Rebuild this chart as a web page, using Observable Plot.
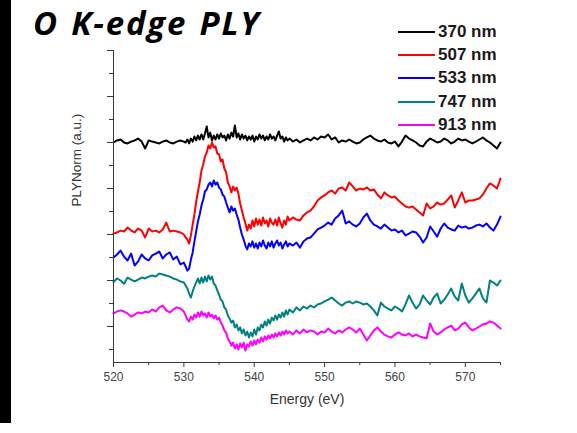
<!DOCTYPE html>
<html><head><meta charset="utf-8">
<script src="https://cdn.jsdelivr.net/npm/d3@7"></script>
<script src="https://cdn.jsdelivr.net/npm/@observablehq/plot@0.6"></script>
<style>
html,body{margin:0;padding:0;background:#fff;}
#wrap{position:relative;width:577px;height:433px;overflow:hidden;background:#fff;}
#strip{position:absolute;left:0;top:0;width:11px;height:423px;background:#000;}
#title{position:absolute;left:33px;top:1px;font-family:"Open Sans";font-style:italic;font-weight:bold;font-size:33px;letter-spacing:1.8px;word-spacing:2px;color:#000;white-space:nowrap;line-height:44px;}
#legend{position:absolute;left:398px;top:20px;font-family:"Liberation Sans",Arial,sans-serif;font-weight:bold;font-size:17px;color:#1a1a1a;}
.row{display:flex;align-items:center;height:23.4px;}
.sw{width:37px;height:2px;margin-right:3px;}
#chart{position:absolute;left:0;top:0;}
</style></head>
<body><div id="wrap"><div id="strip"></div><div id="chart"></div><div id="title">O K-edge PLY</div><div id="legend"></div></div>
<script>
const energy = [
520,520.5,521,521.5,522,522.5,523,523.5,524,524.5,525,525.5,526,526.5,527,527.5,528,528.5,529,529.5,530,
530.25,530.5,530.75,531,531.25,531.5,531.75,532,532.25,532.5,
532.75,533,533.25,533.5,533.75,534,534.25,534.5,534.75,535,
535.25,535.5,535.75,536,536.25,536.5,536.75,537,537.25,537.5,
537.75,538,538.25,538.5,538.75,539,539.25,539.5,539.75,540,
540.25,540.5,540.75,541,541.25,541.5,541.75,542,542.25,542.5,
542.75,543,543.25,543.5,543.75,544,544.25,544.5,544.75,545,
545.5,546,546.5,547,547.5,548,548.5,549,549.5,550,
550.5,551,551.5,552,552.5,553,553.5,554,554.5,555,
555.5,556,556.5,557,557.5,558,558.5,559,559.5,560,
560.5,561,561.5,562,562.5,563,563.5,564,564.5,565,
565.5,566,566.5,567,567.5,568,568.5,569,569.5,570,
570.5,571,571.5,572,572.5,573,573.5,574,574.5,575];

const seriesNames = ["370 nm","507 nm","533 nm","747 nm","913 nm"];
const seriesColors = ["#000000","#ff0000","#0000ff","#008080","#ff00ff"];

const nm370 = [
9.00,9.09,9.13,9.00,8.96,9.04,9.09,9.17,9.04,8.74,9.09,9.04,9.00,8.96,9.04,9.09,9.00,8.96,9.04,9.09,9.04,
9.00,9.13,8.96,9.17,9.04,9.26,9.09,9.30,9.13,9.35,
9.13,9.39,9.70,9.22,9.43,9.09,9.30,9.13,9.35,9.17,
9.39,9.22,9.30,9.09,9.35,9.17,9.43,9.26,9.74,9.22,
9.39,9.13,9.35,9.17,9.30,9.09,9.26,9.13,9.30,9.04,
9.26,9.13,9.35,9.17,9.30,9.09,9.26,9.13,9.35,9.17,
9.26,9.09,9.30,9.48,9.17,9.26,9.04,9.22,9.09,9.17,
9.04,9.13,9.00,9.09,9.17,9.09,9.22,9.13,9.26,9.22,
9.35,9.13,9.22,9.00,9.09,9.04,9.13,9.04,8.96,9.00,
9.13,9.22,9.30,9.17,9.09,9.04,9.13,9.00,8.96,9.04,
8.83,9.04,9.30,9.17,9.09,9.00,8.87,8.83,9.04,9.17,
9.09,9.00,9.04,9.17,9.09,8.96,9.04,9.17,9.09,9.13,
9.04,8.96,9.04,9.13,9.22,9.09,9.00,8.87,8.74,9.00];

const nm507 = [
5.04,5.09,5.17,5.13,5.30,5.17,5.09,5.26,5.17,4.87,5.26,5.13,5.17,5.09,5.22,5.52,5.13,5.17,5.13,5.09,5.00,
4.87,4.78,4.61,4.96,5.43,5.87,6.43,6.87,7.26,7.78,
8.04,8.39,8.57,8.87,8.74,9.00,8.78,8.83,8.52,8.48,
8.17,8.26,7.87,7.70,7.26,7.09,6.83,7.09,6.91,7.04,
6.78,6.35,6.04,5.74,5.48,5.17,5.43,5.26,5.61,5.35,
5.70,5.43,5.65,5.39,5.74,5.48,5.61,5.35,5.70,5.52,
5.43,5.65,5.39,5.74,5.48,5.30,5.61,5.43,5.78,5.61,
5.74,5.65,5.61,5.83,5.96,6.04,6.22,6.48,6.61,6.70,
6.83,6.91,6.78,7.00,7.04,6.91,7.26,7.09,6.91,7.00,
6.96,7.04,6.91,6.96,6.74,6.57,6.83,6.70,6.61,6.65,
6.48,6.35,6.22,6.17,6.22,6.09,5.96,5.83,6.35,6.13,
6.22,6.39,6.30,6.35,6.52,6.70,6.17,6.48,6.83,6.39,
6.48,6.48,6.52,6.57,6.74,7.00,7.22,7.13,7.00,7.43];

const nm533 = [
4.00,4.13,4.30,4.04,3.87,4.17,3.65,3.83,4.13,3.96,3.87,4.09,4.17,4.26,3.96,4.13,4.22,3.91,4.04,3.70,3.78,
3.61,3.43,3.52,3.91,4.22,4.70,5.13,5.57,5.87,6.26,
6.52,6.87,6.96,7.17,7.26,7.09,7.35,7.17,7.26,7.04,
6.96,6.74,6.65,6.39,6.17,5.96,6.22,6.04,6.13,5.87,
5.65,5.30,5.00,4.78,4.52,4.35,4.61,4.48,4.70,4.43,
4.61,4.39,4.65,4.48,4.74,4.52,4.39,4.65,4.48,4.70,
4.43,4.61,4.74,4.52,4.65,4.39,4.57,4.70,4.48,4.61,
4.52,4.65,4.43,4.70,4.83,4.87,5.04,5.22,5.30,5.39,
5.52,5.43,5.70,5.83,6.04,5.48,5.57,5.43,5.35,5.48,
5.74,5.91,5.61,5.43,5.35,5.26,5.43,5.30,5.17,5.22,
5.09,5.17,4.96,5.04,5.13,5.09,4.91,4.65,4.87,5.35,
5.13,4.91,5.26,5.48,5.30,5.22,5.17,5.39,5.30,5.35,
5.26,5.30,5.39,5.43,5.35,5.48,5.30,5.17,5.43,5.78];

const nm747 = [
2.93,3.09,3.00,2.86,3.13,3.04,2.96,3.04,3.13,3.09,3.17,3.22,3.17,3.30,3.26,3.22,3.17,3.09,3.04,2.96,2.91,
2.78,2.65,2.43,2.26,2.52,2.74,2.91,3.09,2.87,3.13,
2.91,3.17,2.96,3.22,3.04,3.17,2.87,2.78,2.57,2.39,
2.17,2.09,1.83,1.74,1.48,1.35,1.17,1.26,0.96,1.09,
0.83,0.96,0.70,0.87,0.61,0.78,0.52,0.74,0.57,0.87,
0.65,0.96,0.83,1.09,0.96,1.22,1.04,1.30,1.13,1.39,
1.26,1.48,1.30,1.52,1.39,1.61,1.43,1.70,1.52,1.74,
1.61,1.83,1.70,1.87,1.78,1.91,1.83,1.96,2.00,2.09,
2.17,2.26,2.13,2.00,1.91,2.04,2.09,2.00,2.09,2.04,
1.96,2.00,1.87,1.70,1.48,2.04,1.87,1.78,1.70,1.87,
1.78,1.65,1.96,2.35,2.04,1.78,1.96,2.35,2.13,1.96,
2.26,2.43,2.00,2.17,2.39,2.65,2.30,2.13,2.87,2.35,
2.04,2.22,2.43,2.65,2.22,2.04,3.00,2.91,2.78,3.00];

const nm913 = [
1.57,1.65,1.70,1.65,1.57,1.43,1.52,1.61,1.57,1.65,1.61,1.74,1.65,1.83,1.91,1.70,1.61,1.74,1.83,1.78,1.65,
1.48,1.30,1.22,1.43,1.30,1.52,1.39,1.61,1.43,1.65,
1.48,1.57,1.39,1.61,1.43,1.52,1.35,1.48,1.30,1.39,
1.17,1.04,0.83,0.74,0.48,0.35,0.17,0.30,0.04,0.22,
0.00,0.26,0.09,0.30,-0.04,0.22,0.13,0.35,0.17,0.39,
0.22,0.43,0.30,0.52,0.35,0.57,0.43,0.61,0.48,0.65,
0.52,0.70,0.57,0.74,0.61,0.78,0.65,0.83,0.70,0.78,
0.65,0.83,0.70,0.87,0.74,0.83,0.78,0.65,0.78,0.74,
0.91,0.78,0.70,0.83,0.74,0.87,0.96,0.87,0.74,0.91,
0.65,0.39,0.61,0.83,0.96,0.78,0.65,0.57,0.52,0.65,
0.74,0.65,0.61,0.70,0.57,0.65,0.57,0.52,0.48,1.13,
0.78,0.65,0.74,0.87,0.96,1.04,0.83,0.91,1.09,1.17,
0.96,0.83,0.91,1.00,1.09,1.13,1.22,1.17,1.04,0.91];

const xMajorTicks = [520,530,540,550,560,570];
const xMinorTicks = [525,535,545,555,565,575];
const yMajorTicks = [1,3,5,7,9,11,13];
const yMinorTicks = [0,2,4,6,8,10,12];
const xDomain = [520,575];
const yDomain = [-0.565,13];
const xLabel = "Energy (eV)";
const yLabel = "PLYNorm (a.u.)";

const seriesValues = [nm370,nm507,nm533,nm747,nm913];
const rows = [];
seriesValues.forEach((vals, k) => {
  energy.forEach((e, i) => rows.push({energy: e, value: vals[i], series: seriesNames[k]}));
});

const axisColor = "#3a3a3a";
const chart = Plot.plot({
  width: 577, height: 433,
  marginLeft: 113, marginRight: 77, marginTop: 50, marginBottom: 71,
  style: {fontFamily: "'Liberation Sans', Arial, sans-serif", background: "transparent", color: axisColor},
  x: {domain: xDomain},
  y: {domain: yDomain},
  color: {domain: seriesNames, range: seriesColors},
  marks: [
    Plot.lineY(rows, {x: "energy", y: "value", z: "series", stroke: "series", strokeWidth: 2, strokeLinejoin: "round"}),
    Plot.ruleX([xDomain[0]], {stroke: axisColor, strokeWidth: 1}),
    Plot.ruleY([yDomain[0]], {stroke: axisColor, strokeWidth: 1}),
    Plot.axisX({ticks: xMajorTicks, tickSize: 5, tickPadding: 5, fontSize: 12, label: null, stroke: axisColor, fill: "#444"}),
    Plot.axisX({ticks: xMinorTicks, tickSize: 3, tickFormat: () => "", label: null, stroke: axisColor}),
    Plot.axisY({ticks: yMajorTicks, tickSize: 6, tickFormat: () => "", label: null, stroke: axisColor}),
    Plot.axisY({ticks: yMinorTicks, tickSize: 4, tickFormat: () => "", label: null, stroke: axisColor}),
    Plot.text([xLabel], {frameAnchor: "bottom", dy: 41, text: d => d, fontSize: 14, fill: "#333"}),
    Plot.text([yLabel], {frameAnchor: "left", dx: -37, rotate: -90, text: d => d, fontSize: 13.5, fill: "#333"})
  ]
});
document.getElementById("chart").appendChild(chart);

const legend = document.getElementById("legend");
seriesNames.forEach((n, k) => {
  const r = document.createElement("div"); r.className = "row";
  const s = document.createElement("div"); s.className = "sw"; s.style.background = seriesColors[k];
  const t = document.createElement("span"); t.textContent = n;
  r.appendChild(s); r.appendChild(t); legend.appendChild(r);
});
</script></body></html>
